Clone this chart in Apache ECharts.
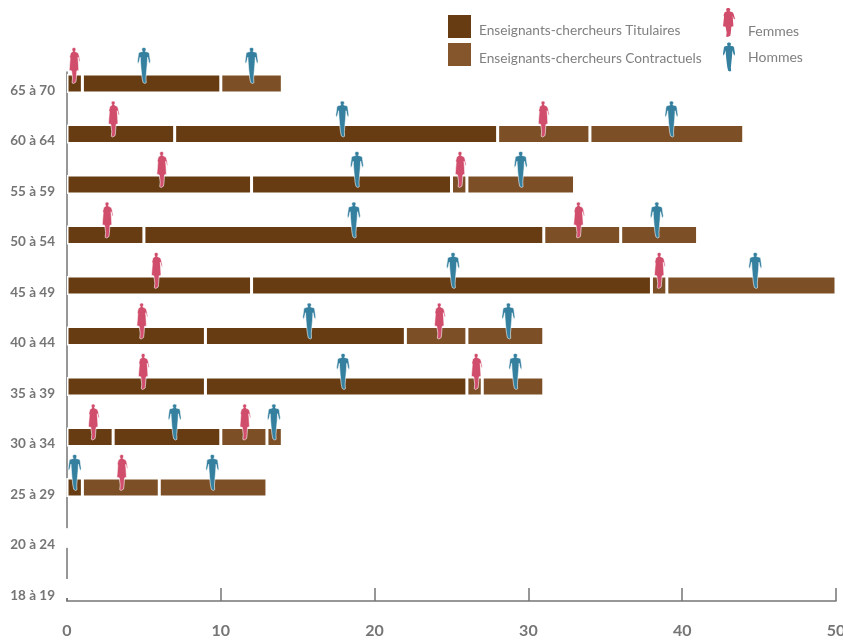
<!DOCTYPE html>
<html>
<head>
<meta charset="utf-8">
<style>html,body{margin:0;padding:0;background:#fff}#chart{width:843px;height:641px}</style>
<script src="https://cdn.jsdelivr.net/npm/echarts@6/dist/echarts.min.js"></script>
</head>
<body>
<div id="chart"></div>
<script>
// Tranches d'âge, de haut en bas
const ageGroups = ['65 à 70','60 à 64','55 à 59','50 à 54','45 à 49','40 à 44','35 à 39','30 à 34','25 à 29','20 à 24','18 à 19'];

// Effectifs par statut et par sexe
const titulairesFemmes     = [1, 7, 12, 5, 12, 9, 9, 3, 0, 0, 0];
const titulairesHommes     = [9, 21, 13, 26, 26, 13, 17, 7, 1, 0, 0];
const contractuelsFemmes   = [0, 6, 1, 5, 1, 4, 1, 3, 5, 0, 0];
const contractuelsHommes   = [4, 10, 7, 5, 11, 5, 4, 1, 7, 0, 0];

// Abscisses des silhouettes sur chaque ligne : [position, indice de la tranche]
const silhouettesFemmes = [
  [0.5,0],[3.05,1],[31,1],[6.2,2],[25.6,2],[2.65,3],[33.3,3],[5.85,4],[38.55,4],
  [4.9,5],[24.25,5],[5,6],[26.65,6],[1.75,7],[11.6,7],[3.6,8]
];
const silhouettesHommes = [
  [5,0],[12,0],[17.9,1],[39.3,1],[18.85,2],[29.5,2],[18.65,3],[38.35,3],[25.1,4],[44.75,4],
  [15.75,5],[28.7,5],[17.95,6],[29.15,6],[7,7],[13.45,7],[0.5,8],[9.45,8]
];

const FONT = 'Lato,Roboto,sans-serif';
const GREY = '#757575';
const BROWN_T = '#673c12';
const BROWN_C = '#7c4f27';
const ROSE = '#d14d6c';
const BLUE = '#35809f';

const FEMME = 'path://M15 0C17.500 0 19 2 19 5C19 8 18 9 17.500 11L22 14C24 15 25 18 26 24L28 38L26 39L23.500 27L25 63L21 65L20 85L19 96L14 100L11 98L12 85L10 65L5 63L7 30L6 26L8 15L12.500 11C11 9 11 7 11 5C11 2 12.500 0 15 0Z';
const HOMME = 'path://M15 0C18 0 19.500 2 19.500 5C19.500 8 18.500 10 18 11L24 13C26 14 27 16 27 20L29 38L28 46L25.500 40L23 27L22 48L21 62L19.500 85L20 98L17 100L13 97L11 85L9 62L8 46L7 27L4.500 40L2 46L1 38L3 20C3 16 4 14 6 13L12 11C11.500 10 10.500 8 10.500 5C10.500 2 12 0 15 0Z';

function stackBar(name, values, color) {
  return {
    type: 'bar', name, stack: 'effectifs', data: values,
    xAxisIndex: 0, yAxisIndex: 0, barWidth: 19, z: 2, silent: true,
    itemStyle: { color, borderColor: '#fff', borderWidth: 1.5 }
  };
}
function figures(name, points, path, color, width) {
  return {
    type: 'scatter', name, xAxisIndex: 0, yAxisIndex: 0, z: 5, silent: true,
    symbol: path, symbolSize: [width, 36],
    symbolOffset: [0, -15],
    itemStyle: { color, borderColor: '#fff', borderWidth: 0.5, opacity: 1 },
    data: points.map(p => p[1] === 0 ? { value: p, symbolOffset: [0, -18] } : { value: p })
  };
}

const chart = echarts.init(document.getElementById('chart'), null, { renderer: 'canvas' });
chart.setOption({
  animation: false,
  backgroundColor: '#fff',
  grid: [
    { left: 67, right: 7, top: 58.25, height: 555.5, outerBoundsMode: 'none' },
    { left: 67, right: 7, top: 72, bottom: 40, outerBoundsMode: 'none' }
  ],
  legend: [
    {
      left: 448, top: 15, padding: 0, orient: 'vertical', itemWidth: 23, itemHeight: 23, itemGap: 5,
      selectedMode: false, icon: 'rect',
      data: [
        { name: 'Enseignants-chercheurs Titulaires', itemStyle: { color: BROWN_T, borderWidth: 0 } },
        { name: 'Enseignants-chercheurs Contractuels', itemStyle: { color: '#85552b', borderWidth: 0 } }
      ],
      formatter: '{t|{name}}',
      textStyle: {
        fontFamily: FONT, fontSize: 13.7, color: '#808080', padding: [0, 0, 0, 3],
        rich: { t: { fontFamily: FONT, fontSize: 13.7, color: '#808080', lineHeight: 22, verticalAlign: 'bottom' } }
      }
    },
    {
      left: 723, top: 8, padding: 0, orient: 'vertical', itemWidth: 12, itemHeight: 29, itemGap: 4,
      selectedMode: false,
      data: [
        { name: 'Femmes', icon: FEMME, symbolKeepAspect: false, itemStyle: { color: ROSE, borderWidth: 0 } },
        { name: 'Hommes', icon: HOMME, symbolKeepAspect: false, itemStyle: { color: BLUE, borderWidth: 0 } }
      ],
      formatter: n => n === 'Femmes' ? '{f|' + n + '}' : '{h|' + n + '}',
      textStyle: {
        fontFamily: FONT, fontSize: 14, color: '#808080', padding: [0, 0, 0, 8],
        rich: {
          f: { fontFamily: FONT, fontSize: 14, color: '#808080', lineHeight: 32, verticalAlign: 'bottom' },
          h: { fontFamily: FONT, fontSize: 14, color: '#808080', lineHeight: 16 }
        }
      }
    }
  ],
  xAxis: [
    { gridIndex: 0, type: 'value', min: 0, max: 50, show: false },
    {
      gridIndex: 1, type: 'value', min: 0, max: 50, interval: 10,
      axisLine: { show: true, lineStyle: { color: GREY, width: 1.5 } },
      axisTick: { show: true, inside: true, length: 13, lineStyle: { color: GREY, width: 1.5 } },
      splitLine: { show: false },
      axisLabel: { margin: 22, fontFamily: FONT, fontSize: 16, fontWeight: 'bold', color: GREY }
    }
  ],
  yAxis: [
    {
      gridIndex: 0, type: 'category', inverse: true, data: ageGroups,
      axisLine: { show: false }, axisTick: { show: false },
      axisLabel: { margin: 12, fontFamily: FONT, fontSize: 13.5, fontWeight: 'bold', color: GREY, verticalAlign: 'top', interval: 0 }
    },
    {
      gridIndex: 1, type: 'value', min: 0, max: 1,
      axisLine: { show: true, lineStyle: { color: GREY, width: 1.5 } },
      axisTick: { show: false }, axisLabel: { show: false }, splitLine: { show: false }
    }
  ],
  series: [
    stackBar('Enseignants-chercheurs Titulaires', titulairesFemmes, BROWN_T),
    stackBar('Enseignants-chercheurs Titulaires', titulairesHommes, BROWN_T),
    stackBar('Enseignants-chercheurs Contractuels', contractuelsFemmes, BROWN_C),
    stackBar('Enseignants-chercheurs Contractuels', contractuelsHommes, BROWN_C),
    figures('Femmes', silhouettesFemmes, FEMME, ROSE, 11),
    figures('Hommes', silhouettesHommes, HOMME, BLUE, 13)
  ]
});
</script>
</body>
</html>
